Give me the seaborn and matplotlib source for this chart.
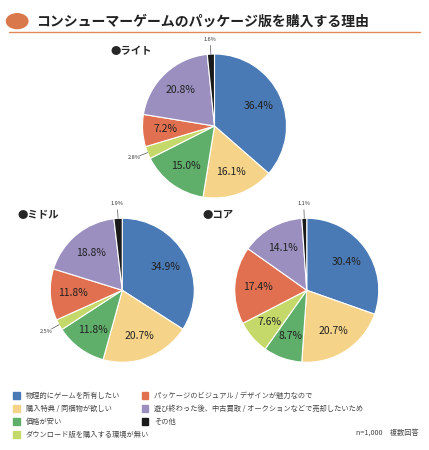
import matplotlib
matplotlib.use("Agg")
import matplotlib.pyplot as plt
import seaborn as sns
import numpy as np

sns.set_theme(style="white")
plt.rcParams['font.family'] = ['Noto Sans CJK JP', 'DejaVu Sans']

categories = ["物理的にゲームを所有したい", "購入特典 / 同梱物が欲しい", "価格が安い",
              "ダウンロード版を購入する環境が無い", "パッケージのビジュアル / デザインが魅力なので",
              "遊び終わった後、中古買取 / オークションなどで売却したいため", "その他"]
light = [36.4, 16.1, 15.0, 2.8, 7.2, 20.8, 1.6]
middle = [34.9, 20.7, 11.8, 2.5, 11.8, 18.8, 1.9]
core = [30.4, 20.7, 8.7, 7.6, 17.4, 14.1, 1.1]
colors = ["#4a7ab5", "#f5d48a", "#5fae6a", "#c5d96a", "#e0704f", "#9a8fbf", "#1a1a1a"]

fig = plt.figure(figsize=(4.29, 4.5), dpi=100)
fig.text(0.085, 0.953, "コンシューマーゲームのパッケージ版を購入する理由", fontsize=10,
         fontweight="bold", va="center", color="#222")
fig.patches.append(matplotlib.patches.Ellipse((0.04, 0.953), 0.05, 0.033, transform=fig.transFigure,
                                               color="#d9784a"))
fig.add_artist(plt.Line2D([0.02, 0.98], [0.93, 0.93], color="#e08a5a", lw=1))

def draw(rect, vals, title):
    ax = fig.add_axes(rect)
    wedges, _ = ax.pie(vals, colors=colors, startangle=90, counterclock=False,
                       wedgeprops=dict(edgecolor="white", linewidth=0.8))
    for w, v in zip(wedges, vals):
        ang = np.deg2rad((w.theta1 + w.theta2) / 2)
        x, y = np.cos(ang), np.sin(ang)
        if v >= 5:
            ax.text(0.68 * x, 0.68 * y, f"{v:.1f}%", ha="center", va="center", fontsize=7.5, color="#222")
        else:
            ax.plot([x, 1.12 * x], [y, 1.12 * y], color="#555", lw=0.5)
            ax.text(1.2 * x, 1.2 * y, f"{v:.1f}%", ha="center", va="center", fontsize=4, color="#333")
    ax.set_xlim(-1.25, 1.25); ax.set_ylim(-1.25, 1.25)
    ax.set_aspect("equal")
    ax.text(-1.45, 1.0, "●" + title, fontsize=7.5, fontweight="bold", ha="left", transform=ax.transData)

draw([0.29, 0.52, 0.42, 0.40], light, "ライト")
draw([0.075, 0.155, 0.42, 0.40], middle, "ミドル")
draw([0.505, 0.155, 0.42, 0.40], core, "コア")

left = [0, 1, 2, 3]; right = [4, 5, 6]
for col, idxs in ((0.03, left), (0.33, right)):
    for r, i in enumerate(idxs):
        y = 0.122 - r * 0.029
        fig.patches.append(matplotlib.patches.Rectangle((col, y - 0.009), 0.016, 0.016,
                           transform=fig.transFigure, color=colors[i]))
        fig.text(col + 0.03, y - 0.001, categories[i], fontsize=5.2, va="center", color="#444")
fig.text(0.975, 0.038, "n=1,000　複数回答", fontsize=5.2, ha="right", va="center", color="#444")
fig.savefig("out.png", dpi=100, facecolor="white")
